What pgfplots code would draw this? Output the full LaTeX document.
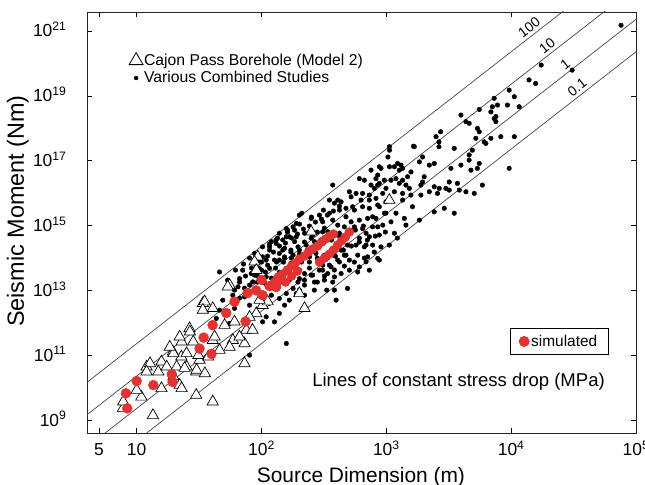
\documentclass[border=0pt]{standalone}
\usepackage{fontspec}
\setmainfont{Liberation Sans}
\usepackage{pgfplots}
\pgfplotsset{compat=1.18}
\definecolor{simred}{RGB}{226,50,50}
\definecolor{linegray}{RGB}{70,70,70}

\begin{document}
\begin{tikzpicture}
\useasboundingbox (-87bp,-52bp) rectangle (558bp,433bp);
\begin{axis}[
  at={(0,0)}, anchor=south west,
  scale only axis, width=549bp, height=421bp,
  xmode=log, ymode=log,
  xmin=4, xmax=1e5, ymin=4e8, ymax=3.85e21,
  xtick={5,10,100,1000,10000,100000},
  xticklabels={5,10,10\textsuperscript{2},10\textsuperscript{3},10\textsuperscript{4},10\textsuperscript{5}},
  ytick={1e9,1e11,1e13,1e15,1e17,1e19,1e21},
  yticklabels={10\textsuperscript{9},10\textsuperscript{11},10\textsuperscript{13},10\textsuperscript{15},10\textsuperscript{17},10\textsuperscript{19},10\textsuperscript{21}},
  minor xtick={}, minor ytick={}, minor tick length=0pt,
  tick align=inside, tick pos=both,
  major tick length=5bp,
  tick style={black, line width=0.6bp},
  axis line style={line width=0.8bp, black!85},
  xticklabel style={font=\fontsize{17.5}{20}\selectfont, anchor=base, yshift=-23bp},
  yticklabel style={font=\fontsize{17.5}{20}\selectfont, anchor=base east, xshift=-17bp, yshift=-6bp},
  xlabel={Source Dimension (m)}, ylabel={Seismic Moment (Nm)},
  xlabel style={font=\fontsize{21}{24}\selectfont, at={(axis description cs:0.499,-0.1164)}, anchor=base},
  ylabel style={font=\fontsize{23.5}{26}\selectfont, at={(axis description cs:-0.126,0.527)}, anchor=center},
  legend style={draw=none, fill=none, at={(axis description cs:0.0765,0.904)}, anchor=north west,
    font=\fontsize{15.8}{18}\selectfont, inner sep=0pt, row sep=2.5bp, nodes={inner sep=1bp}},
  legend cell align=left,
]
% lines of constant stress drop (MPa)
\addplot[forget plot, linegray, line width=0.7bp] coordinates {(4,1.463e10) (1e5,2.286e23)};
\addplot[forget plot, linegray, line width=0.7bp] coordinates {(4,1.463e9) (1e5,2.286e22)};
\addplot[forget plot, linegray, line width=0.7bp] coordinates {(4,1.463e8) (1e5,2.286e21)};
\addplot[forget plot, linegray, line width=0.7bp] coordinates {(4,1.463e7) (1e5,2.286e20)};

\addlegendimage{only marks, mark=triangle*, mark size=8bp, mark options={fill=white, draw=black, line width=0.8bp}}
\addlegendentry{Cajon Pass Borehole (Model 2)}
\addlegendimage{only marks, mark=*, mark size=2bp, black}
\addlegendentry{Various Combined Studies}

% Various Combined Studies
\addplot[forget plot, only marks, mark=*, mark size=2.3bp, black] coordinates {
(7311,8.4e18) (7770,5.2e18) (9340,5.2e18) (6880,3.2e18) (7311,2.0e18) (7550,1.6e18) (5550,3.8e18) (3960,2.55e18)
(4340,1.6e18) (4610,1.42e18) (5360,9.9e17) (5550,7.8e17) (8260,5.5e17) (6880,4.9e17) (6080,3.8e17) (6270,3.4e17)
(5210,4.9e17) (2720,7.8e17) (2500,5.5e17) (2640,3.8e17) (2640,2.7e17) (3500,2.4e17) (4890,2.1e17) (4610,1.5e17)
(4610,1.04e17) (5550,8.2e16) (5360,5.8e16) (4760,5.1e16) (3960,7.3e16) (3290,5.8e16) (2420,8.2e16) (2210,7.3e16)
(1950,1.3e17) (1840,9.2e16) (1650,2.8e17) (1060,2.1e17) (1030,1.3e17) (906,5.8e16) (754,5.1e16) (1060,6.5e16)
(1160,6.5e16) (1230,8.2e16) (1310,7.3e16) (1350,5.8e16) (1270,5.1e16) (1575,4.5e16) (2010,3.2e16) (1950,2.2e16)
(1890,1.77e16) (2420,1.57e16) (2655,1.4e16) (3000,1.4e16) (3190,1.24e16) (3710,2.0e16) (3840,1.24e16) (4340,1.1e16)
(5880,1.77e16) (5060,9.8e15) (826,2.8e16) (964,2.5e16) (1090,2.5e16) (1195,2.8e16) (1350,2.5e16) (1270,2.0e16)
(1435,1.77e16) (1530,1.4e16) (853,1.77e16) (802,1.4e16) (993,1.4e16) (1160,1.1e16) (1350,9.8e15) (1575,8.7e15)
(1890,8.7e15) (2210,1.1e16) (2570,9.8e15)
(75900,1.5e21) (17400,8.9e19) (30800,6.2e19) (13900,3.1e19) (15700,2.4e19) (9640,1.5e19) (10600,9.4e18)
(7070,4.6e18) (11600,4.6e18) (7550,2.3e18)
(1675,2.7e17) (1060,2.7e17) (853,3.6e16) (608,2.8e16) (645,9.8e15) (506,1.1e16) (9640,5.8e16) (10600,5.5e17)
(3500,2.4e15) (2910,3.4e15) (2420,2.65e15) (1840,1.47e15) (1435,1.03e15) (1160,5.8e14) (993,2.4e15) (1480,3.2e16)
(3190,2.2e16) (372,1.77e16) (408,6.1e15) (350,6.1e15) (537,3.8e15) (731,6.1e15) (853,4.3e15) (1350,6.1e15)
(1620,3.8e15) (1195,2.4e15) (1393,1.66e15) (1090,1.3e15) (776,1.86e15) (608,1.47e15) (853,9.1e14) (688,5.8e14)
(537,7.2e14) (421,5.8e14) (339,6.4e14) (350,2.4e15) (475,1.86e15)
(879,6.5e16) (667,2.5e16) (754,1.77e16) (879,2.0e16) (572,9.8e15) (522,7.7e15) (627,6.1e15) (731,8.7e15)
(826,6.9e15) (936,9.8e15) (993,5.4e15) (384,4.9e15) (434,5.4e15) (421,3.0e15) (475,3.4e15) (555,3.0e15)
(645,3.8e15) (731,3.4e15) (879,3.8e15) (964,2.4e15) (826,1.66e15) (708,1.66e15) (522,1.3e15) (201,2.1e15)
(250,1.66e15) (291,2.1e15) (309,1.3e15) (372,1.47e15) (408,1.03e15) (461,9.1e14) (555,9.1e14) (645,8.1e14)
(776,9.1e14) (936,1.03e15) (879,5.1e14) (731,4.5e14) (608,4.1e14) (572,2.5e14) (667,2.2e14) (776,2.5e14)
(906,2.2e14) (590,1.22e14) (708,1.08e14) (879,8.6e13) (506,8.6e13) (608,5.3e13) (731,4.2e13) (179,9.1e14)
(158,4.5e14) (148,1.75e14) (162,7.2e14) (190,4.5e14) (221,5.8e14) (257,5.1e14) (309,6.4e14) (139,8.6e13)
(153,1.08e14) (179,1.22e14) (201,1.75e14) (228,2.5e14) (265,3.2e14) (300,3.6e14) (172,6.8e13) (201,8.6e13)
(242,1.08e14) (273,1.38e14) (434,3.2e14) (489,2.5e14) (434,1.75e14) (475,1.22e14) (408,8.6e13) (361,5.3e13)
(309,4.2e13) (257,2.96e13) (221,3.3e13) (201,2.3e13) (434,3.3e13) (506,4.2e13) (384,2.6e13)
(46.1,3.7e13) (66.7,2.3e13) (70.7,4.2e13) (82.7,3.3e13) (96.4,4.7e13) (112,6.0e13) (127,8.6e13) (102,1.08e14)
(87.9,1.38e14) (116,1.75e14) (131,2.8e14) (148,3.6e14) (167,4.5e14) (139,5.8e14) (158,8.1e14) (184,7.2e14)
(190,1.16e15) (120,3.2e14) (102,2.2e14) (109,8.6e13) (90.5,6.0e13) (139,1.38e14) (153,1.98e14) (172,1.75e14)
(184,3.2e14) (85,1.83e13) (109,2.6e13) (64.8,1.29e13) (58.9,7.1e12) (73.1,6.3e12) (120,7.1e12) (116,4.0e12)
(139,5.6e12) (158,8.0e12) (179,1.15e13) (153,3.5e12) (167,5.0e12) (190,8.0e12) (109,1.53e12) (139,1.96e12)
(48.9,5.0e12) (46.1,2.46e12) (60.8,2.8e12) (43.4,1.36e12) (55.5,9.6e11) (90.5,1.96e12) (102,1.07e12) (127,1.07e12)
(158,2.3e11) (80.2,1.01e11) (291,2.5e14) (688,7.6e13) (853,9.7e13) (590,3.7e13) (489,1.15e13) (384,1.02e13)
(396,5.0e12) (688,2.5e14) (339,3.3e13) (309,6.0e13) (210,2.4e15) (131,3.6e14) (116,2.2e14)
(87.9,2.96e13) (100,4.2e13) (116,4.8e13) (132,7.5e13) (153,9.9e13) (172,1.52e14) (196,2.2e14) (221,3.1e14)
(250,4.1e14) (280,6.3e14) (319,8.3e14) (80.2,1.46e13) (92.8,1.8e13) (106,1.68e13) (120,2.4e13) (139,3.65e13)
(161,4.8e13) (184,6.0e13) (209,7.5e13) (242,7.5e13) (280,9.9e13) (319,1.22e14) (350,1.52e14) (384,2.0e14)
(421,2.5e14) (461,3.6e14) (167,2.07e13) (196,1.8e13) (221,2.07e13) (250,2.96e13) (291,4.2e13) (350,6.0e13)
(421,7.5e13) (461,1.22e14) (265,1.02e13) (201,1.02e13) (221,7.1e12) (280,1.8e13) (319,2.07e13) (372,1.8e13)
(333,1.02e13) (73.1,1.17e13) (66.7,5.75e12) (80.2,3.5e12)
(100,7.47e13) (111.7,1.14e14) (124.7,1.52e14) (139.3,2.33e14) (155.6,2.88e14) (173.8,4.11e14) (194.1,5.46e14)
(216.8,7.79e14) (242.1,9.64e14) (270.4,1.28e15) (302,1.58e15) (337.3,2.11e15) (376.7,2.8e15) (420.7,3.99e15)
(96.4,9.93e13) (115.9,2.68e14) (134.3,4.11e14) (161.4,6.3e14) (201.4,1.11e15) (251.2,1.83e15) (313.3,3.0e15)
(92.9,2.77e13) (107.6,3.67e13) (129.4,4.88e13) (150,7.47e13) (173.8,9.93e13) (201.4,1.32e14) (233.3,1.75e14)
(270.4,2.33e14) (313.3,2.88e14) (363.1,3.56e14) (420.7,4.73e14) (487.5,6.3e14) (564.9,7.26e14) (654.6,9.64e14)
(201.4,4.24e13) (242.1,4.88e13) (291,7.47e13) (337.3,9.93e13) (390.8,1.14e14) (452.9,1.75e14) (524.8,2.33e14)
(608,3.09e14) (704.7,3.56e14) (816.6,4.73e14) (981.7,6.3e14)
(220.8,1.46e13) (265.5,1.81e13) (319.2,2.77e13) (383.7,4.24e13) (461.3,5.62e13) (554.6,7.47e13) (666.8,9.93e13)
(801.8,1.52e14) (1057,2.5e14) (1225,4.11e14)
(66.7,1.81e13) (74.5,2.77e13) (83.2,4.88e13) (92.9,7.47e13) (60.8,1.02e13) (53.5,2.07e13) (61.9,4.24e13)
(71.8,6.49e13) (80.2,9.93e13)
};

% Cajon Pass Borehole (Model 2)
\addplot[forget plot, only marks, mark=triangle*, mark size=6.5bp, mark options={fill=white, draw=black, line width=0.7bp}] coordinates {
(7.76,2.3e9) (7.8,3.7e9) (10.9,5.2e9) (10,8.4e9) (13.5,1.4e9) (12.0,4.4e10) (15.8,6.3e10) (19.5,1.28e11)
(22.8,9.0e10) (22.1,1.2e10) (30.0,5.9e9) (40.7,3.7e9) (30.0,3.1e10) (31.9,7.1e10) (26.5,6.7e11) (33.9,4.0e12)
(40.7,2.9e11) (50.6,8.5e11) (55.5,1.46e13) (58.9,2.9e11) (73.1,5.6e10) (73.1,2.3e11) (90.8,1.95e12) (93.3,1.09e14)
(201,8.1e12) (221,2.8e12) (26.7,5.3e11) (22.9,2.6e11) (28.4,2.6e11) (19.7,1.14e11) (25.1,1.14e11) (31.2,1.0e11)
(37.5,9.0e10) (12.8,5.6e10) (12.0,3.1e10) (14.9,3.1e10) (25.1,4.4e10) (30.2,3.5e10) (35.2,2.75e10) (20.9,4.4e10)
(17.4,4.4e10) (15.8,9.5e9) (22.9,9.5e9) (19.7,2.2e10) (87.9,7.6e13) (90.8,4.2e13) (53.7,1.3e13) (35.0,4.5e12)
(33.9,2.5e12) (40.7,2.8e12) (60.8,1.08e12) (102,3.5e12) (112,4.5e12) (75.5,6.0e11) (42.1,3.7e11) (250,6.4e14)
(1057,6.1e15) (22.1,3.7e11) (18.4,1.8e11) (46.1,1.44e11) (55.5,1.8e11) (66.7,3.7e11) (84.7,6.0e11) (80.2,1.5e12)
(96.4,5.0e12) (24.2,4.0e10)
};

\node[rotate=37.9, anchor=south, inner sep=3bp, font=\fontsize{14}{16}\selectfont] at (axis cs:15280,8.15e20) {100};
\node[rotate=37.9, anchor=south, inner sep=3bp, font=\fontsize{14}{16}\selectfont] at (axis cs:21280,2.2e20) {10};
\node[rotate=37.9, anchor=south, inner sep=3bp, font=\fontsize{14}{16}\selectfont] at (axis cs:29650,5.96e19) {1};
\node[rotate=37.9, anchor=south, inner sep=3bp, font=\fontsize{14}{16}\selectfont] at (axis cs:36980,1.156e19) {0.1};
\node[anchor=west, font=\fontsize{18.6}{21}\selectfont, inner sep=0pt] at (rel axis cs:0.41,0.121) {Lines of constant stress drop (MPa)};
\end{axis}

\begin{axis}[
  at={(0,0)}, anchor=south west,
  scale only axis, width=549bp, height=421bp,
  xmode=log, ymode=log,
  xmin=4, xmax=1e5, ymin=4e8, ymax=3.85e21,
  hide axis,
  legend style={at={(axis description cs:0.770,0.249)}, anchor=north west, draw=black, line width=0.9bp, fill=white,
    font=\fontsize{15.5}{17}\selectfont, inner xsep=9bp, inner ysep=4.5bp},
]
\addplot[only marks, mark=*, mark size=5bp, color=simred] coordinates {
(8.2,6.7e9) (8.4,2.3e9) (10,1.6e10) (13.6,1.2e10) (19.1,2.6e10) (19.4,1.5e10) (31.9,1.6e11) (34.4,3.5e11)
(39.8,1.1e11) (40.6,8.5e11) (52.2,2.0e12) (60.8,4.5e12) (74.5,1.1e12) (77.3,8.3e12) (90.5,1.0e13) (100,2.1e13)
(102,7.1e12) (131,1.27e13) (116,1.36e13) (139,2.07e13)
};
\addlegendentry{simulated}
\addplot[forget plot, only marks, mark=*, mark size=4.5bp, color=simred] coordinates {
(127,1.8e13) (136,2.6e13) (147,3.18e13) (161,4.24e13) (174,5.62e13) (187,6.97e13) (201,9.25e13) (221,1.15e14)
(238,1.52e14) (256,1.88e14) (281,2.33e14) (302,3.09e14) (325,3.83e14) (350,4.74e14) (377,5.46e14) (319,9.93e13)
(350,1.32e14) (377,1.75e14) (406,2.50e14) (437,3.32e14) (470,4.42e14) (506,6.30e14) (156,1.81e13) (174,2.77e13)
(194,3.94e13) (291,7.5e13)
};
\end{axis}
\end{tikzpicture}
\end{document}
